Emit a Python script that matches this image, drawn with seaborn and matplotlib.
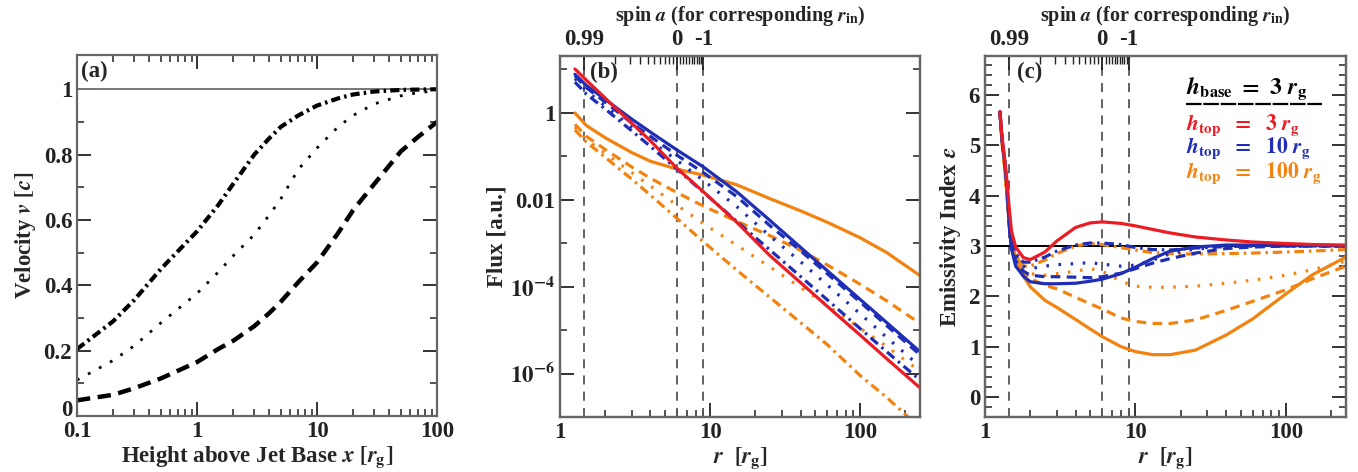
import numpy as np
import pandas as pd
import matplotlib
matplotlib.use("Agg")
import matplotlib.pyplot as plt
import matplotlib.transforms as mtransforms
import seaborn as sns

# ---------------- panel (a): jet velocity profiles ----------------
height = [0.1, 0.2, 0.3, 0.5, 1, 1.5, 2, 3, 4, 5, 7, 10, 15, 20, 30, 50, 70, 100]
vel_dashdot = [0.205, 0.29, 0.355, 0.45, 0.565, 0.645, 0.71, 0.80, 0.85, 0.885, 0.92, 0.95, 0.972, 0.984, 0.993, 0.998, 0.999, 1.0]
vel_dotted = [0.11, 0.17, 0.215, 0.285, 0.375, 0.44, 0.49, 0.555, 0.615, 0.665, 0.755, 0.82, 0.885, 0.92, 0.955, 0.98, 0.99, 0.995]
vel_dashed = [0.048, 0.065, 0.085, 0.115, 0.165, 0.205, 0.23, 0.275, 0.315, 0.35, 0.41, 0.47, 0.56, 0.63, 0.71, 0.81, 0.855, 0.90]

# ---------------- panel (b): flux profiles (log10 of flux) ----------------
r_flux = [1.257, 1.5, 2, 3, 4, 6, 9, 15, 25, 40, 60, 100, 150, 250]
logflux_red = [1.0, 0.74, 0.33, -0.245, -0.65, -1.28, -1.82, -2.52, -3.29, -3.91, -4.45, -5.12, -5.66, -6.33]
logflux_blue_solid = [0.88, 0.62, 0.30, -0.15, -0.45, -0.86, -1.25, -1.82, -2.48, -3.10, -3.63, -4.30, -4.83, -5.50]
logflux_blue_dashed = [0.84, 0.57, 0.24, -0.24, -0.55, -0.98, -1.38, -1.93, -2.60, -3.18, -3.70, -4.36, -4.90, -5.57]
logflux_blue_dotted = [0.78, 0.50, 0.15, -0.33, -0.65, -1.10, -1.56, -2.16, -2.84, -3.43, -3.96, -4.63, -5.17, -5.84]
logflux_blue_dashdot = [0.70, 0.42, 0.08, -0.42, -0.78, -1.30, -1.83, -2.50, -3.16, -3.77, -4.30, -4.97, -5.50, -6.15]
logflux_orange_solid = [-0.01, -0.30, -0.58, -0.92, -1.12, -1.30, -1.44, -1.66, -1.98, -2.26, -2.52, -2.88, -3.22, -3.75]
logflux_orange_dashed = [-0.27, -0.55, -0.85, -1.25, -1.51, -1.84, -2.15, -2.50, -2.83, -3.17, -3.50, -3.95, -4.33, -4.85]
logflux_orange_dotted = [-0.33, -0.62, -0.94, -1.38, -1.69, -2.13, -2.55, -3.05, -3.55, -4.02, -4.43, -4.96, -5.38, -5.95]
logflux_orange_dashdot = [-0.40, -0.68, -1.03, -1.53, -1.90, -2.43, -2.97, -3.62, -4.25, -4.83, -5.33, -6.05, -6.55, -7.25]

# ---------------- panel (c): emissivity index ----------------
r_eps = [1.257, 1.3, 1.35, 1.4, 1.45, 1.5, 1.6, 1.8, 2.0, 2.5, 3, 4, 5, 6, 8, 10, 13, 17, 25, 40, 60, 100, 150, 250]
eps_red = [5.67, 5.15, 4.75, 4.3, 3.75, 3.3, 2.98, 2.77, 2.73, 2.88, 3.1, 3.37, 3.46, 3.48, 3.45, 3.4, 3.33, 3.26, 3.18, 3.12, 3.08, 3.05, 3.03, 3.02]
eps_blue_solid = [5.67, 5.1, 4.7, 4.2, 3.4, 2.95, 2.6, 2.4, 2.29, 2.25, 2.25, 2.26, 2.3, 2.34, 2.45, 2.58, 2.75, 2.9, 2.98, 3.02, 3.02, 3.01, 3.01, 3.0]
eps_blue_dashed = [5.67, 5.1, 4.7, 4.2, 3.4, 3.0, 2.7, 2.5, 2.42, 2.39, 2.39, 2.38, 2.37, 2.39, 2.46, 2.55, 2.66, 2.75, 2.86, 2.95, 2.98, 3.0, 3.0, 3.0]
eps_blue_dotted = [5.67, 5.1, 4.7, 4.2, 3.45, 3.05, 2.78, 2.6, 2.55, 2.6, 2.63, 2.65, 2.67, 2.64, 2.6, 2.62, 2.72, 2.85, 2.94, 2.98, 3.0, 3.0, 3.0, 3.0]
eps_blue_dashdot = [5.67, 5.1, 4.7, 4.2, 3.5, 3.1, 2.85, 2.68, 2.68, 2.78, 2.9, 3.02, 3.06, 3.06, 3.03, 2.97, 2.93, 2.92, 2.96, 2.99, 3.0, 3.0, 3.0, 3.0]
eps_orange_solid = [5.67, 5.05, 4.6, 4.0, 3.5, 3.1, 2.78, 2.4, 2.19, 1.92, 1.78, 1.54, 1.35, 1.2, 1.0, 0.9, 0.84, 0.84, 0.93, 1.23, 1.55, 2.05, 2.43, 2.78]
eps_orange_dashed = [5.67, 5.05, 4.6, 4.0, 3.5, 3.15, 2.85, 2.5, 2.35, 2.22, 2.15, 1.98, 1.85, 1.75, 1.57, 1.5, 1.46, 1.46, 1.53, 1.72, 1.9, 2.13, 2.35, 2.6]
eps_orange_dotted = [5.67, 5.05, 4.6, 4.0, 3.5, 3.15, 2.85, 2.55, 2.45, 2.42, 2.45, 2.5, 2.55, 2.5, 2.3, 2.2, 2.18, 2.18, 2.2, 2.26, 2.32, 2.42, 2.53, 2.7]
eps_orange_dashdot = [5.67, 5.05, 4.6, 4.0, 3.5, 3.1, 2.8, 2.6, 2.6, 2.72, 2.85, 3.0, 3.05, 3.03, 2.97, 2.92, 2.87, 2.85, 2.84, 2.85, 2.86, 2.88, 2.9, 2.93]

# spins marked on the top axis
spin_major = [0.99, 0.0, -1.0]
spin_major_labels = ["0.99", "0", "-1"]
spin_minor = [0.9, 0.8, 0.7, 0.6, 0.5, 0.4, 0.3, 0.2, 0.1,
              -0.1, -0.2, -0.3, -0.4, -0.5, -0.6, -0.7, -0.8, -0.9]

RED = "#ec1c24"
BLUE = "#1f2eb4"
ORANGE = "#f28310"
GRID_GREY = "#555555"


def r_isco(a):
    # inner-most stable circular orbit for spin a
    a = np.asarray(a, dtype=float)
    z1 = 1 + np.cbrt(1 - a**2) * (np.cbrt(1 + a) + np.cbrt(1 - a))
    z2 = np.sqrt(3 * a**2 + z1**2)
    return 3 + z2 - np.sign(a) * np.sqrt((3 - z1) * (3 + z1 + 2 * z2))


sns.set_style("ticks")
plt.rcParams["font.family"] = ["Liberation Serif", "DejaVu Serif"]
plt.rcParams["font.weight"] = "bold"
plt.rcParams["axes.labelweight"] = "bold"
plt.rcParams["mathtext.fontset"] = "stix"
plt.rcParams["axes.edgecolor"] = "#666666"
plt.rcParams["axes.linewidth"] = 1.6

FS = 16.5

fig = plt.figure(figsize=(13.58, 4.72), dpi=100)
ax_a = fig.add_axes([0.0567, 0.1186, 0.2651, 0.765])
ax_b = fig.add_axes([0.4124, 0.1165, 0.2651, 0.765])
ax_c = fig.add_axes([0.7253, 0.1165, 0.2658, 0.765])

# line styles (in units of line width)
LS = {
    "solid": "-",
    "dashed": (0, (3.0, 2.0)),
    "dotted": (0, (0.8, 3.0)),
    "dashdot": (0, (3.0, 1.5, 0.8, 1.5)),
}


def style_ticks(ax):
    ax.tick_params(which="both", direction="in", colors="#222222", labelsize=FS)
    ax.tick_params(which="major", length=10, width=1.3)
    ax.tick_params(which="minor", length=5, width=1.1)
    for lab in ax.get_xticklabels() + ax.get_yticklabels():
        lab.set_fontweight("bold")


# ---------------- panel (a) ----------------
df_a = pd.DataFrame({"x": height, "dashdot": vel_dashdot,
                     "dotted": vel_dotted, "dashed": vel_dashed})
ax_a.axhline(1.0, color="#777777", lw=1.4, zorder=1)
sns.lineplot(data=df_a, x="x", y="dashdot", ax=ax_a, color="black", lw=3.0,
             linestyle=(0, (2.2, 1.0, 0.6, 1.0)), estimator=None, sort=False)
sns.lineplot(data=df_a, x="x", y="dotted", ax=ax_a, color="black", lw=2.0,
             linestyle=(0, (1.0, 3.5)), estimator=None, sort=False)
sns.lineplot(data=df_a, x="x", y="dashed", ax=ax_a, color="black", lw=3.2,
             linestyle=(0, (3.0, 1.7)), estimator=None, sort=False)
ax_a.set_xscale("log")
ax_a.set_xlim(0.1, 100)
ax_a.set_ylim(0, 1.105)
ax_a.set_xticks([0.1, 1, 10, 100])
ax_a.set_xticklabels(["0.1", "1", "10", "100"])
ax_a.set_yticks([0, 0.2, 0.4, 0.6, 0.8, 1.0])
ax_a.set_yticklabels(["0", "0.2", "0.4", "0.6", "0.8", "1"])
ax_a.set_yticks([0.1, 0.3, 0.5, 0.7, 0.9], minor=True)
ax_a.tick_params(which="both", top=True, right=True)
style_ticks(ax_a)
# the "0" label sits a little above the axis corner
zero_lab = ax_a.get_yticklabels()[0]
zero_lab.set_transform(zero_lab.get_transform() +
                       mtransforms.ScaledTranslation(0, 0.08, fig.dpi_scale_trans))
ax_a.set_xlabel(r"Height above Jet Base $x\ [r_{\rm g}]$", fontsize=FS, labelpad=2)
ax_a.set_ylabel(r"Velocity $v\ [c]$", fontsize=FS, labelpad=4)
ax_a.text(0.012, 0.955, "(a)", transform=ax_a.transAxes, fontsize=FS,
          fontweight="bold", va="center", ha="left")

# ---------------- panel (b) ----------------
flux_sets = [
    (logflux_orange_dashdot, ORANGE, "dashdot"),
    (logflux_orange_dotted, ORANGE, "dotted"),
    (logflux_orange_dashed, ORANGE, "dashed"),
    (logflux_orange_solid, ORANGE, "solid"),
    (logflux_blue_dashdot, BLUE, "dashdot"),
    (logflux_blue_dotted, BLUE, "dotted"),
    (logflux_blue_dashed, BLUE, "dashed"),
    (logflux_blue_solid, BLUE, "solid"),
    (logflux_red, RED, "solid"),
]
eps_sets = [
    (eps_orange_dashdot, ORANGE, "dashdot"),
    (eps_orange_dotted, ORANGE, "dotted"),
    (eps_orange_dashed, ORANGE, "dashed"),
    (eps_orange_solid, ORANGE, "solid"),
    (eps_blue_dashdot, BLUE, "dashdot"),
    (eps_blue_dotted, BLUE, "dotted"),
    (eps_blue_dashed, BLUE, "dashed"),
    (eps_blue_solid, BLUE, "solid"),
    (eps_red, RED, "solid"),
]

r_marks = r_isco(spin_major)

for ax in (ax_b, ax_c):
    for rv in r_marks:
        ax.axvline(rv, color=GRID_GREY, lw=1.3, linestyle=(0, (5, 4)), zorder=1)

for vals, col, ls in flux_sets:
    d = pd.DataFrame({"r": r_flux, "f": 10.0 ** np.array(vals)})
    sns.lineplot(data=d, x="r", y="f", ax=ax_b, color=col, lw=2.3,
                 linestyle=LS[ls], estimator=None, sort=False)

ax_b.set_xscale("log")
ax_b.set_yscale("log")
ax_b.set_xlim(1, 250)
ax_b.set_ylim(1e-7, 20)
ax_b.set_xticks([1, 10, 100])
ax_b.set_xticklabels(["1", "10", "100"])
ax_b.set_yticks([1, 1e-2, 1e-4, 1e-6])
ax_b.set_yticklabels(["1", "0.01", r"$\mathbf{10^{-4}}$", r"$\mathbf{10^{-6}}$"])
ax_b.set_yticks([10, 1e-1, 1e-3, 1e-5], minor=True)
ax_b.set_yticklabels([], minor=True)
ax_b.tick_params(which="both", right=True, top=False)
style_ticks(ax_b)
ax_b.set_xlabel(r"$r\ \ [r_{\rm g}]$", fontsize=FS, labelpad=2)
ax_b.set_ylabel("Flux [a.u.]", fontsize=FS, labelpad=2)
ax_b.text(0.083, 0.953, "(b)", transform=ax_b.transAxes, fontsize=FS,
          fontweight="bold", va="center", ha="left")

# ---------------- panel (c) ----------------
ax_c.axhline(3.0, color="black", lw=1.4, zorder=1)
for vals, col, ls in eps_sets:
    d = pd.DataFrame({"r": r_eps, "e": vals})
    sns.lineplot(data=d, x="r", y="e", ax=ax_c, color=col, lw=2.3,
                 linestyle=LS[ls], estimator=None, sort=False)

ax_c.set_xscale("log")
ax_c.set_xlim(1, 250)
ax_c.set_ylim(-0.4, 6.78)
ax_c.set_xticks([1, 10, 100])
ax_c.set_xticklabels(["1", "10", "100"])
ax_c.set_yticks([0, 1, 2, 3, 4, 5, 6])
ax_c.set_yticks(np.arange(-0.4, 6.8, 0.2), minor=True)
ax_c.tick_params(which="both", right=True, top=False)
style_ticks(ax_c)
ax_c.set_xlabel(r"$r\ \ [r_{\rm g}]$", fontsize=FS, labelpad=2)
ax_c.set_ylabel(r"Emissivity Index $\epsilon$", fontsize=FS, labelpad=4)
ax_c.text(0.089, 0.953, "(c)", transform=ax_c.transAxes, fontsize=FS,
          fontweight="bold", va="center", ha="left")

# legend text
ax_c.text(0.557, 0.895, r"$\boldsymbol{h}_{\mathbf{base}}\ \mathbf{=\ 3}\ \boldsymbol{r}_{\mathbf{g}}$",
          transform=ax_c.transAxes, fontsize=17, color="black", ha="left", va="baseline")
ax_c.plot([0.557, 0.935], [0.866, 0.866], transform=ax_c.transAxes, color="black",
          lw=1.6, linestyle=(0, (7, 0.8)), solid_capstyle="butt")
LFS = 15.5
ax_c.text(0.557, 0.796, r"$\boldsymbol{h}_{\mathbf{top}}\ \ \mathbf{=\ \ 3}\ \boldsymbol{r}_{\mathbf{g}}$",
          transform=ax_c.transAxes, fontsize=LFS, color=RED, ha="left", va="baseline")
ax_c.text(0.557, 0.731, r"$\boldsymbol{h}_{\mathbf{top}}\ \ \mathbf{=\ \ 10}\ \boldsymbol{r}_{\mathbf{g}}$",
          transform=ax_c.transAxes, fontsize=LFS, color=BLUE, ha="left", va="baseline")
ax_c.text(0.557, 0.662, r"$\boldsymbol{h}_{\mathbf{top}}\ \ \mathbf{=\ \ 100}\ \boldsymbol{r}_{\mathbf{g}}$",
          transform=ax_c.transAxes, fontsize=LFS, color=ORANGE, ha="left", va="baseline")

# ---------------- spin axes on top of (b) and (c) ----------------
for ax in (ax_b, ax_c):
    top = ax.twiny()
    top.set_xscale("log")
    top.set_xlim(ax.get_xlim())
    top.set_xticks(r_marks)
    top.set_xticklabels(spin_major_labels)
    top.set_xticks(r_isco(spin_minor), minor=True)
    top.set_xticklabels([], minor=True)
    top.tick_params(which="both", direction="in", colors="#222222", labelsize=FS, pad=4)
    top.tick_params(which="major", length=10, width=1.3)
    top.tick_params(which="minor", length=6, width=1.0)
    for lab in top.get_xticklabels():
        lab.set_fontweight("bold")
    top.set_xlabel(r"spin $a$ (for corresponding $r_{\rm in}$)", fontsize=14.5, labelpad=6)
    for s in top.spines.values():
        s.set_color("#666666")

fig.savefig("out.png", dpi=100)
